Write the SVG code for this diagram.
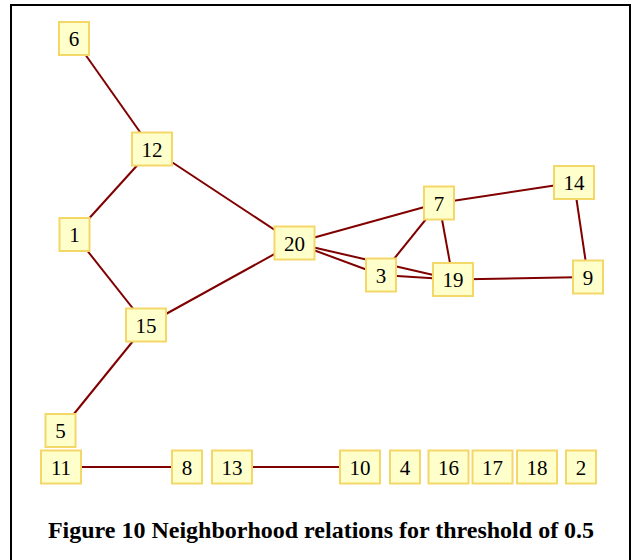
<svg xmlns="http://www.w3.org/2000/svg" width="632" height="560" viewBox="0 0 632 560">
  <style>
    .edge { stroke: #800000; stroke-width: 2; fill: none; }
    .box { fill: #ffffcc; stroke: #f3d869; stroke-width: 2; }
    .lbl { font-family: "Liberation Serif", "Times New Roman", serif; font-size: 21px; fill: #000; text-anchor: middle; }
    .caption { font-family: "Liberation Serif", "Times New Roman", serif; font-size: 24px; font-weight: bold; fill: #000; text-anchor: middle; }
  </style>
  <rect x="0" y="0" width="632" height="560" fill="#ffffff"/>
  <!-- frame, open at the bottom -->
  <path d="M11,560 V5 H630 V560" fill="none" stroke="#000" stroke-width="2"/>

  <g id="connectors">
    <line class="edge" x1="74" y1="38.5" x2="152" y2="149"/>
    <line class="edge" x1="152" y1="149" x2="74.5" y2="234.5"/>
    <line class="edge" x1="152" y1="149" x2="294.5" y2="243"/>
    <line class="edge" x1="74.5" y1="234.5" x2="146" y2="325"/>
    <line class="edge" x1="146" y1="325" x2="294.5" y2="243"/>
    <line class="edge" x1="146" y1="325" x2="60.5" y2="430.5"/>
    <line class="edge" x1="294.5" y1="243" x2="439" y2="203"/>
    <line class="edge" x1="294.5" y1="243" x2="381" y2="275"/>
    <line class="edge" x1="294.5" y1="243" x2="453" y2="279.5"/>
    <line class="edge" x1="439" y1="203" x2="381" y2="275"/>
    <line class="edge" x1="439" y1="203" x2="453" y2="279.5"/>
    <line class="edge" x1="439" y1="203" x2="574" y2="182.5"/>
    <line class="edge" x1="574" y1="182.5" x2="588" y2="277"/>
    <line class="edge" x1="588" y1="277" x2="453" y2="279.5"/>
    <line class="edge" x1="381" y1="275" x2="453" y2="279.5"/>
    <line class="edge" x1="61" y1="467" x2="187" y2="467"/>
    <line class="edge" x1="232" y1="467" x2="360" y2="467"/>
  </g>

  <g id="n6"><rect class="box" x="59" y="22" width="30" height="33"/><text class="lbl" x="74" y="46">6</text></g>
  <g id="n12"><rect class="box" x="132" y="132.5" width="40" height="33"/><text class="lbl" x="152" y="156.5">12</text></g>
  <g id="n1"><rect class="box" x="59.5" y="218" width="30" height="33"/><text class="lbl" x="74.5" y="242">1</text></g>
  <g id="n20"><rect class="box" x="274.5" y="226.5" width="40" height="33"/><text class="lbl" x="294.5" y="250.5">20</text></g>
  <g id="n7"><rect class="box" x="424" y="186.5" width="30" height="33"/><text class="lbl" x="439" y="210.5">7</text></g>
  <g id="n14"><rect class="box" x="554" y="166" width="40" height="33"/><text class="lbl" x="574" y="190">14</text></g>
  <g id="n3"><rect class="box" x="366" y="258.5" width="30" height="33"/><text class="lbl" x="381" y="282.5">3</text></g>
  <g id="n19"><rect class="box" x="433" y="263" width="40" height="33"/><text class="lbl" x="453" y="287">19</text></g>
  <g id="n9"><rect class="box" x="573" y="260.5" width="30" height="33"/><text class="lbl" x="588" y="284.5">9</text></g>
  <g id="n15"><rect class="box" x="126" y="308.5" width="40" height="33"/><text class="lbl" x="146" y="332.5">15</text></g>
  <g id="n5"><rect class="box" x="45.5" y="414" width="30" height="33"/><text class="lbl" x="60.5" y="438">5</text></g>
  <g id="n11"><rect class="box" x="41" y="450.5" width="40" height="33"/><text class="lbl" x="61" y="474.5">11</text></g>
  <g id="n8"><rect class="box" x="172" y="450.5" width="30" height="33"/><text class="lbl" x="187" y="474.5">8</text></g>
  <g id="n13"><rect class="box" x="212" y="450.5" width="40" height="33"/><text class="lbl" x="232" y="474.5">13</text></g>
  <g id="n10"><rect class="box" x="340" y="450.5" width="40" height="33"/><text class="lbl" x="360" y="474.5">10</text></g>
  <g id="n4"><rect class="box" x="390" y="450.5" width="30" height="33"/><text class="lbl" x="405" y="474.5">4</text></g>
  <g id="n16"><rect class="box" x="428.5" y="450.5" width="40" height="33"/><text class="lbl" x="448.5" y="474.5">16</text></g>
  <g id="n17"><rect class="box" x="472.5" y="450.5" width="40" height="33"/><text class="lbl" x="492.5" y="474.5">17</text></g>
  <g id="n18"><rect class="box" x="517" y="450.5" width="40" height="33"/><text class="lbl" x="537" y="474.5">18</text></g>
  <g id="n2"><rect class="box" x="566" y="450.5" width="30" height="33"/><text class="lbl" x="581" y="474.5">2</text></g>

  <text class="caption" x="321" y="538">Figure 10 Neighborhood relations for threshold of 0.5</text>
</svg>
